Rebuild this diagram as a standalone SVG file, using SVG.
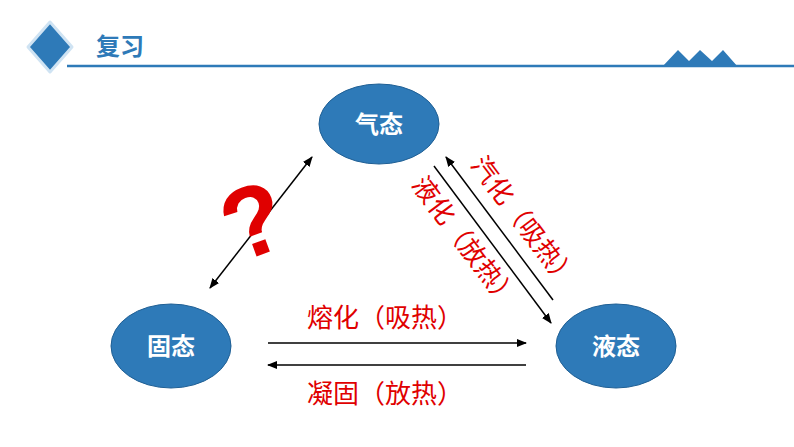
<svg xmlns="http://www.w3.org/2000/svg" width="794" height="447" viewBox="0 0 794 447">
<defs>
<marker id="ah" viewBox="0 0 10 10" refX="9" refY="5" markerWidth="7" markerHeight="7" orient="auto-start-reverse"><path d="M0,1 L10,5 L0,9 Z" fill="#000"/></marker>
<style>
.node{fill:#2e7ab8;stroke:#1f5f94;stroke-width:1}
.nt{font-family:"Noto Sans CJK SC",sans-serif;font-size:24px;font-weight:bold;fill:#fff;text-anchor:middle}
.lbl{font-family:"Noto Sans CJK SC",sans-serif;font-size:26px;fill:#e00000;text-anchor:middle}
.ln{stroke:#000;stroke-width:1.5;fill:none}
</style>
</defs>
<rect width="794" height="447" fill="#fff"/>
<g id="header">
<path d="M50,22 L72,47 L50,72 L28,47 Z" fill="#2e7ab8" stroke="#cfe3f3" stroke-width="3" stroke-linejoin="round"/>
<text x="96" y="55" font-family="Noto Sans CJK SC,sans-serif" font-size="24" font-weight="bold" fill="#2e7ab8">复习</text>
<line x1="67" y1="66" x2="794" y2="66" stroke="#2e7ab8" stroke-width="2.5"/>
<path d="M662,67 L678,50 L689,61 L700,50 L712,61 L723,50 L738,67 Z" fill="#2e7ab8"/>
</g>
<g id="gas"><ellipse class="node" cx="379" cy="124" rx="60" ry="40"/><text class="nt" x="379" y="133">气态</text></g>
<g id="solid"><ellipse class="node" cx="171" cy="346" rx="60" ry="42"/><text class="nt" x="171" y="355">固态</text></g>
<g id="liquid"><ellipse class="node" cx="616" cy="346" rx="60" ry="42"/><text class="nt" x="616" y="355">液态</text></g>
<g id="connectors">
<line class="ln" x1="210" y1="288" x2="312" y2="157" marker-start="url(#ah)" marker-end="url(#ah)"/>
<line class="ln" x1="553" y1="300" x2="446" y2="157" marker-end="url(#ah)"/>
<line class="ln" x1="434" y1="166" x2="551" y2="323" marker-end="url(#ah)"/>
<line class="ln" x1="268" y1="343" x2="526" y2="343" marker-end="url(#ah)"/>
<line class="ln" x1="526" y1="365" x2="268" y2="365" marker-end="url(#ah)"/>
</g>
<g id="labels">
<text x="255" y="255" font-family="Liberation Sans,sans-serif" font-size="100" font-weight="bold" fill="#e00000" text-anchor="middle" transform="rotate(-20 255 225)">?</text>
<text class="lbl" transform="translate(524,222) rotate(53)" y="9">汽化（吸热）</text>
<text class="lbl" transform="translate(465,242) rotate(53)" y="9">液化（放热）</text>
<text class="lbl" x="385" y="327">熔化（吸热）</text>
<text class="lbl" x="385" y="403">凝固（放热）</text>
</g>
</svg>
